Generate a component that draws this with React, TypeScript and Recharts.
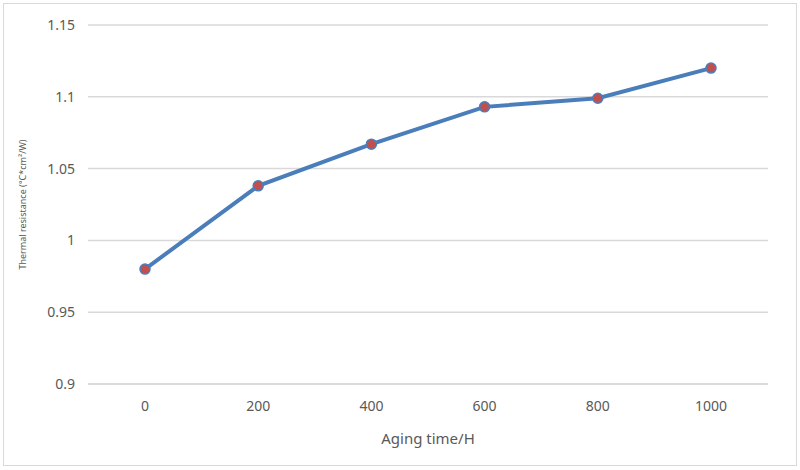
import React from 'react';
import { LineChart, Line, XAxis, YAxis, CartesianGrid } from 'recharts';

const agingHours = ['0', '200', '400', '600', '800', '1000'];
const thermalResistance = [0.98, 1.038, 1.067, 1.093, 1.099, 1.12];
const yTicks = [0.9, 0.95, 1, 1.05, 1.1, 1.15];

const data = agingHours.map((h, i) => ({ hours: h, value: thermalResistance[i] }));

const FONT = '"Noto Sans", "Open Sans", sans-serif';
const TEXT = '#595959';

function YTitle({ viewBox }: any) {
  const cx = 22;
  const cy = viewBox.y + viewBox.height / 2;
  return (
    <text
      x={cx}
      y={cy}
      transform={`rotate(-90 ${cx} ${cy})`}
      textAnchor="middle"
      dominantBaseline="central"
      fill={TEXT}
      fontSize={9}
      fontFamily={FONT}
    >
      Thermal resistance (°C*cm²/W)
    </text>
  );
}

export default function App() {
  return (
    <div style={{ position: 'absolute', left: 0, top: 0, width: 800, height: 470, background: '#fff' }}>
      <div
        style={{
          position: 'absolute',
          left: 3,
          top: 3,
          width: 792,
          height: 461,
          border: '1px solid #d9d9d9',
        }}
      />
      <LineChart
        width={800}
        height={470}
        data={data}
        margin={{ top: 25, right: 32, left: 0, bottom: 0 }}
        style={{ position: 'absolute', left: 0, top: 0 }}
      >
        <CartesianGrid vertical={false} stroke="#d9d9d9" strokeWidth={1.5} />
        <XAxis
          dataKey="hours"
          height={86}
          padding={{ left: 57, right: 57 }}
          axisLine={{ stroke: '#d9d9d9', strokeWidth: 1.5 }}
          tickLine={false}
          tickSize={0}
          tickMargin={17}
          tick={{ fill: TEXT, fontSize: 14, fontFamily: FONT }}
          label={{
            value: 'Aging time/H',
            position: 'insideBottom',
            offset: 26,
            fill: TEXT,
            fontSize: 15,
            fontFamily: FONT,
          }}
        />
        <YAxis
          width={88}
          domain={[0.9, 1.15]}
          ticks={yTicks}
          axisLine={false}
          tickLine={false}
          tickSize={0}
          tickMargin={13}
          tick={{ fill: TEXT, fontSize: 14, fontFamily: FONT }}
          label={<YTitle />}
        />
        <Line
          type="linear"
          dataKey="value"
          stroke="#4a7ebb"
          strokeWidth={4}
          dot={{ r: 5, fill: '#c0504d', stroke: '#4a7ebb', strokeWidth: 1.5 }}
          isAnimationActive={false}
        />
      </LineChart>
    </div>
  );
}
